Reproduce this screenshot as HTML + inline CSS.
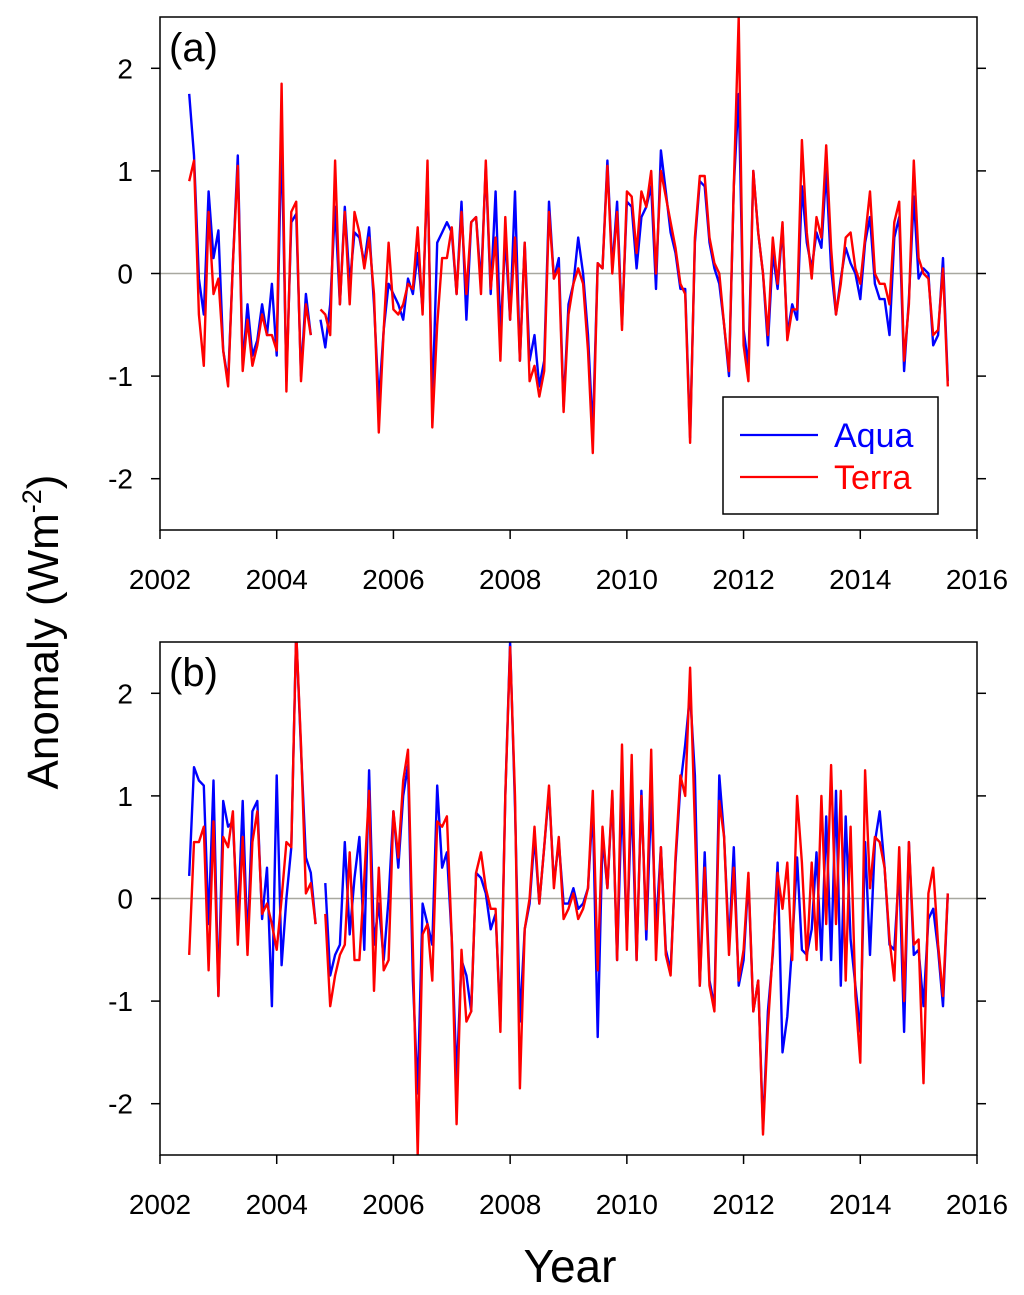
<!DOCTYPE html>
<html><head><meta charset="utf-8"><style>
body{margin:0;background:#fff;}
svg{display:block;font-family:"Liberation Sans",Arial,sans-serif;}
</style></head><body>
<svg id="chart" width="1024" height="1295" viewBox="0 0 1024 1295"></svg>
<script>
const startYear = 2002.5;
const aquaA = [
1.75,1.15,-0.05,-0.4,0.8,0.15,
0.42,-0.75,-1.05,0.1,1.15,-0.9,-0.3,-0.8,-0.65,-0.3,-0.6,-0.1,
-0.8,1.35,-1.05,0.5,0.58,-1.0,-0.2,-0.6,null,-0.45,-0.72,-0.3,
0.65,-0.3,0.65,-0.1,0.4,0.35,0.1,0.45,-0.3,-1.25,-0.55,-0.1,
-0.2,-0.3,-0.45,-0.05,-0.2,0.2,-0.35,1.0,-1.3,0.3,0.4,0.5,
0.4,-0.2,0.7,-0.45,0.5,0.55,-0.1,1.05,-0.2,0.8,-0.6,0.35,
-0.45,0.8,-0.85,0.3,-0.85,-0.6,-1.1,-0.85,0.7,-0.05,0.15,-1.3,
-0.3,-0.1,0.35,0.0,-0.6,-1.55,0.1,0.05,1.1,0.05,0.7,-0.5,
0.7,0.65,0.05,0.55,0.65,0.85,-0.15,1.2,0.8,0.4,
0.2,-0.15,-0.15,-1.6,0.3,0.9,0.85,0.3,0.05,-0.1,-0.5,-1.0,
0.85,1.75,-0.55,-0.9,1.0,0.4,0.0,-0.7,0.2,-0.15,0.45,-0.6,
-0.3,-0.45,0.85,0.3,0.05,0.4,0.25,1.0,0.05,-0.4,-0.05,0.25,
0.1,0.0,-0.25,0.3,0.55,-0.1,-0.25,-0.25,-0.6,0.35,0.55,-0.95,-0.25,0.75,
-0.05,0.05,0.0,-0.7,-0.6,0.15,-1.05];
const terraA = [
0.9,1.1,-0.4,-0.9,0.6,-0.2,
-0.05,-0.75,-1.1,0.1,1.05,-0.95,-0.45,-0.9,-0.7,-0.4,-0.6,-0.6,
-0.75,1.85,-1.15,0.6,0.7,-1.05,-0.3,-0.6,null,-0.35,-0.4,-0.6,
1.1,-0.3,0.6,-0.3,0.6,0.4,0.05,0.35,-0.2,-1.55,-0.55,0.3,
-0.35,-0.4,-0.3,-0.1,-0.15,0.45,-0.4,1.1,-1.5,-0.5,0.15,0.15,
0.45,-0.2,0.6,-0.2,0.5,0.55,-0.2,1.1,-0.15,0.35,-0.85,0.55,
-0.45,0.35,-0.85,0.3,-1.05,-0.9,-1.2,-0.95,0.6,-0.05,0.05,-1.35,
-0.4,-0.1,0.05,-0.1,-0.75,-1.75,0.1,0.05,1.05,0.0,0.6,-0.55,
0.8,0.75,0.2,0.8,0.65,1.0,0.0,1.0,0.75,0.5,
0.25,-0.1,-0.2,-1.65,0.35,0.95,0.95,0.35,0.1,0.0,-0.5,-0.95,
0.85,2.5,-0.7,-1.05,1.0,0.4,0.0,-0.6,0.35,-0.1,0.5,-0.65,
-0.35,-0.35,1.3,0.4,-0.05,0.55,0.35,1.25,0.25,-0.4,-0.1,0.35,
0.4,0.05,-0.1,0.35,0.8,0.0,-0.1,-0.1,-0.3,0.5,0.7,-0.85,-0.3,1.1,
0.15,0.0,-0.05,-0.6,-0.55,0.05,-1.1];
const aquaB = [
0.22,1.28,1.15,1.1,-0.25,1.15,
-0.95,0.95,0.7,0.75,-0.25,0.95,-0.45,0.85,0.95,-0.2,0.3,-1.05,
1.2,-0.65,0.0,0.5,2.6,1.45,0.4,0.25,-0.25,null,0.15,-0.75,
-0.55,-0.45,0.55,-0.35,0.2,0.6,-0.5,1.25,-0.45,-0.05,-0.6,0.0,
0.85,0.3,1.0,1.3,-0.8,-1.9,-0.05,-0.25,-0.45,1.1,0.3,0.45,
-0.4,-1.75,-0.6,-0.75,-1.1,0.25,0.2,0.05,-0.3,-0.15,-1.2,1.0,
2.5,0.9,-1.2,-0.3,-0.05,0.6,-0.05,0.5,1.05,0.15,0.55,-0.05,
-0.05,0.1,-0.1,-0.05,0.1,0.9,-1.35,0.6,0.1,1.0,-0.6,1.0,
-0.4,1.0,-0.6,1.05,-0.4,1.0,-0.3,0.5,-0.5,-0.7,0.35,1.1,
1.5,2.0,1.2,-0.85,0.45,-0.8,-1.05,1.2,0.6,-0.45,0.5,-0.85,
-0.6,0.2,-1.1,-0.8,-2.25,-1.1,-0.55,0.35,-1.5,-1.15,-0.45,0.4,
-0.5,-0.55,-0.3,0.45,-0.6,0.8,-0.6,1.05,-0.85,0.8,-0.4,-0.85,
-1.3,0.55,-0.55,0.55,0.85,0.3,-0.45,-0.5,0.3,-1.3,0.55,-0.55,
-0.5,-1.05,-0.2,-0.1,-0.5,-1.05,0.05];
const terraB = [
-0.55,0.55,0.55,0.7,-0.7,0.75,
-0.95,0.6,0.5,0.85,-0.45,0.6,-0.55,0.55,0.85,-0.15,-0.05,-0.25,
-0.5,0.0,0.55,0.5,2.6,1.5,0.05,0.15,-0.25,null,-0.15,-1.05,
-0.75,-0.55,-0.45,0.45,-0.6,-0.6,0.2,1.05,-0.9,0.3,-0.7,-0.6,
0.85,0.4,1.15,1.45,-0.5,-2.5,-0.35,-0.25,-0.8,0.75,0.7,0.8,
-0.4,-2.2,-0.5,-1.2,-1.1,0.25,0.45,0.1,-0.1,-0.1,-1.3,1.0,
2.45,1.0,-1.85,-0.3,0.0,0.7,-0.05,0.5,1.1,0.1,0.6,-0.2,
-0.1,0.05,-0.2,-0.1,0.1,1.05,-0.7,0.7,0.1,1.05,-0.6,1.5,
-0.5,1.4,-0.6,1.0,-0.3,1.45,-0.6,0.5,-0.55,-0.75,0.4,1.2,
1.0,2.25,0.7,-0.85,0.3,-0.85,-1.1,0.95,0.6,-0.55,0.3,-0.8,
-0.5,0.25,-1.1,-0.8,-2.3,-1.25,-0.5,0.25,-0.1,0.35,-0.6,1.0,
0.35,-0.6,0.35,-0.5,1.0,-0.25,1.3,-0.25,1.05,-0.8,0.7,-0.95,
-1.6,1.25,0.1,0.6,0.55,0.3,-0.4,-0.8,0.5,-1.0,0.55,-0.45,
-0.4,-1.8,0.05,0.3,-0.45,-0.95,0.05];
const xTicks = [2002,2004,2006,2008,2010,2012,2014,2016];
const yTicks = [-2,-1,0,1,2];

const NS="http://www.w3.org/2000/svg";
const svg=document.getElementById('chart');
function mk(tag,attrs,parent){const e=document.createElementNS(NS,tag);for(const k in attrs)e.setAttribute(k,attrs[k]);(parent||svg).appendChild(e);return e;}
const X0=160,X1=977;
function xs(year){return X0+(year-2002)/14*(X1-X0);}

function panel(top,bottom,label,aqua,terra,withLegend,pname){
  const g=mk('g',{});
  
  
  function ys(v){return bottom-(v+2.5)/5*(bottom-top);}
  const zl=mk('line',{x1:X0,x2:X1,y1:ys(0),y2:ys(0),stroke:'#a8a8a0','stroke-width':1.5},g);
  
  
  const clipId='clip'+pname;
  const cp=mk('clipPath',{id:clipId},g);
  mk('rect',{x:X0,y:top,width:X1-X0,height:bottom-top},cp);
  function series(arr,color,name){
    let d='',pen=false;
    arr.forEach((v,i)=>{
      if(v===null){pen=false;return;}
      const x=xs(startYear+i/12),y=ys(v);
      d+=(pen?'L':'M')+x.toFixed(1)+','+y.toFixed(1);pen=true;
    });
    const p=mk('path',{d:d,fill:'none',stroke:color,'stroke-width':2.4,'stroke-linejoin':'round','clip-path':'url(#'+clipId+')'},g);
    
    
  }
  series(aqua,'#0000ff','aqua-line');
  series(terra,'#ff0000','terra-line');
  const fr=mk('rect',{x:X0,y:top,width:X1-X0,height:bottom-top,fill:'none',stroke:'#000','stroke-width':1.5},g);
  
  
  yTicks.forEach(t=>{
    const y=ys(t);
    mk('line',{x1:X0-9,x2:X0,y1:y,y2:y,stroke:'#000','stroke-width':1.5},g);
    mk('line',{x1:X1,x2:X1+9,y1:y,y2:y,stroke:'#000','stroke-width':1.5},g);
    const tx=mk('text',{x:X0-27,y:y+10,'text-anchor':'end','font-size':28},g);
    tx.textContent=t;
    
    
  });
  xTicks.forEach(t=>{
    const x=xs(t);
    mk('line',{x1:x,x2:x,y1:bottom,y2:bottom+9,stroke:'#000','stroke-width':1.5},g);
    const tx=mk('text',{x:x,y:bottom+59,'text-anchor':'middle','font-size':28},g);
    tx.textContent=t;
    
    
  });
  const pl=mk('text',{x:169,y:top+44,'font-size':40},g);
  pl.textContent=label;
  
  
  if(withLegend){
    const lg=mk('g',{},g);
    
    
    mk('rect',{x:723,y:397,width:215,height:117,fill:'#fff',stroke:'#000','stroke-width':1.5},lg);
    mk('line',{x1:740,x2:818,y1:435,y2:435,stroke:'#0000ff','stroke-width':2.2},lg);
    mk('line',{x1:740,x2:818,y1:477,y2:477,stroke:'#ff0000','stroke-width':2.2},lg);
    const a=mk('text',{x:834,y:447,'font-size':34,fill:'#0000ff'},lg);a.textContent='Aqua';
    
    
    const t=mk('text',{x:834,y:489,'font-size':34,fill:'#ff0000'},lg);t.textContent='Terra';
    
    
  }
}
panel(17,530,'(a)',aquaA,terraA,true,'panel-a');
panel(642,1155,'(b)',aquaB,terraB,false,'panel-b');

const yl=mk('text',{x:0,y:0,'font-size':44,'text-anchor':'middle',transform:'translate(58,632) rotate(-90)'});
yl.innerHTML='Anomaly (Wm<tspan dy="-17" font-size="27">-2</tspan><tspan dy="17">)</tspan>';


const xl=mk('text',{x:570,y:1282,'font-size':46,'text-anchor':'middle'});
xl.textContent='Year';


</script>
</body></html>
